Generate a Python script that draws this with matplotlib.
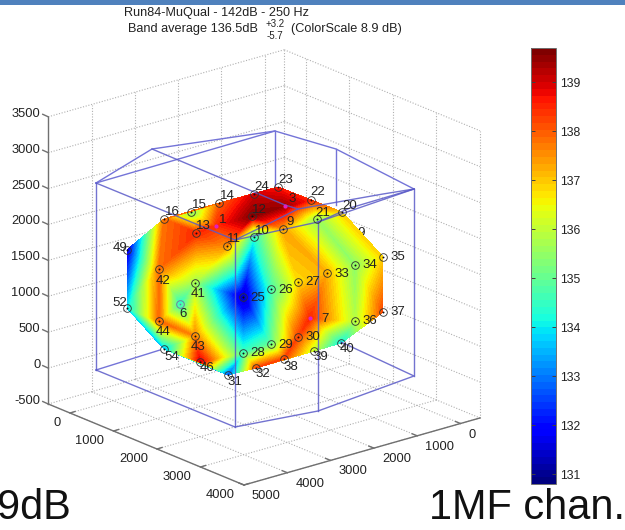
#! /usr/bin/env python3

import matplotlib
matplotlib.use("Agg")
import matplotlib.pyplot as plt
import matplotlib.tri as mtri
import numpy as np

plt.rcParams['font.family'] = ['Liberation Sans', 'DejaVu Sans']

W, H = 625, 530
TXT = '#222222'

# sensors: number, screen x, screen y, level in dB
sensor_id = ['49', '16', '15', '14', '24', '23', '22', '20', '3', '12', '1', '13', '11', '10', '9', '21',
             '35', '34', '33', '27', '26', '25', '42', '41', '6', '52', '44', '43', '54', '46', '31',
             '28', '29', '30', '32', '38', '39', '40', '36', '37', '7']
sensor_x = [127, 164, 191, 219, 254, 278, 311, 342, 285, 252, 216, 196, 227, 254, 283, 317,
            383, 355, 327, 298, 271, 243, 159, 195, 180, 127, 159, 195, 164, 200, 228,
            243, 271, 298, 256, 284, 314, 341, 355, 383, 310]
sensor_y = [250, 219, 212, 203, 194, 187, 200, 212, 206, 216, 226, 233, 246, 237, 229, 219,
            257, 265, 273, 282, 289, 297, 269, 283, 304, 308, 321, 336, 349, 362, 375,
            353, 344, 337, 368, 359, 351, 343, 321, 312, 318]
sensor_db = [131.5, 137.8, 135.2, 137.9, 139.0, 138.6, 138.5, 136.9, 139.4, 139.6, 138.4, 138.5, 137.5, 134.3, 137.3, 135.5,
             136.9, 135.4, 137.2, 136.8, 134.6, 131.2, 137.8, 135.6, 134.3, 133.8, 137.9, 137.6, 133.5, 139.0, 132.5,
             134.6, 135.0, 138.2, 138.2, 138.2, 136.0, 134.0, 135.8, 138.2, 138.5]
# where the number sits relative to the sensor
label_dx = [-7, 8, 8, 8, 8, 8, 7, 8, 7, 7, 7, 7, 7, 8, 7, 6,
            15, 15, 15, 15, 15, 15, 4, 3, 3, -7, 4, 3, 8, 7, 7,
            15, 15, 15, 7, 7, 7, 6, 15, 15, 15]
label_dy = [-2, -7, -7, -7, -7, -7, -8, -6, -7, -6, -6, -7, -7, -6, -7, -6,
            0, 0, 1, 0, 1, 1, 12, 11, 10, -5, 11, 11, 8, 6, 7,
            0, 1, 0, 6, 8, 6, 6, 0, 0, 1]
magenta_ids = ['1', '3', '7']

# axes box of the 3D view
x_ticks = [0, 1000, 2000, 3000, 4000]
y_ticks = [0, 1000, 2000, 3000, 4000, 5000]
z_ticks = [-500, 0, 500, 1000, 1500, 2000, 2500, 3000, 3500]
x_lim = (-500, 4000)
y_lim = (-450, 5000)
z_lim = (-500, 3500)

# blue wire frame, screen coordinates
wire_back = [
    ([96, 160], [370, 350]),
    ([275, 275], [131, 187]),
    ([336, 336], [149, 205]),
    ([96, 152, 275, 336, 414], [183, 149, 131, 149, 189]),
    ([96, 275], [183, 131]),
]
wire_front = [
    ([96, 96], [183, 370]),
    ([235, 235], [240, 427]),
    ([318, 318], [222, 411]),
    ([414, 414], [189, 376]),
    ([96, 235, 318, 414], [183, 240, 222, 189]),
    ([96, 235, 318, 414, 341], [370, 427, 411, 376, 342]),
    ([152, 285, 298], [149, 205, 209]),
    ([235, 270, 298, 383, 414], [240, 223, 209, 194, 189]),
    ([318, 350, 414], [222, 208, 189]),
]

cbar_ticks = [131, 132, 133, 134, 135, 136, 137, 138, 139]
cbar_min, cbar_max = 130.8, 139.7


def proj(x, y, z):
    # orthographic view: world mm to screen pixels
    return (286.5 + 0.0435 * x - 0.0433 * y,
            315.6 + 0.018 * x + 0.0123 * y - 0.0718 * z)


fig = plt.figure(figsize=(W / 100, H / 100), dpi=100)
ax = fig.add_axes([0, 0, 1, 1])
ax.set_xlim(0, W)
ax.set_ylim(H, 0)
ax.axis('off')

# top band of the slide
ax.fill_between([0, W], 0, 5, color='#4f81bd', lw=0, zorder=1)

# dotted grid on the two walls and the floor
grid_kw = dict(color='#b0b0b0', lw=0.8, ls=(0, (1, 1.5)), zorder=1)
def seg(p0, p1, **kw):
    a, b = proj(*p0), proj(*p1)
    ax.plot([a[0], b[0]], [a[1], b[1]], **kw)

for z in z_ticks:
    seg((x_lim[0], y_lim[1], z), (x_lim[0], y_lim[0], z), **grid_kw)
    seg((x_lim[0], y_lim[0], z), (x_lim[1], y_lim[0], z), **grid_kw)
for y in y_ticks[:-1]:
    seg((x_lim[0], y, z_lim[0]), (x_lim[0], y, z_lim[1]), **grid_kw)
for y in y_ticks:
    seg((x_lim[0], y, z_lim[0]), (x_lim[1], y, z_lim[0]), **grid_kw)
for x in x_ticks:
    seg((x, y_lim[0], z_lim[0]), (x, y_lim[0], z_lim[1]), **grid_kw)
    seg((x, y_lim[0], z_lim[0]), (x, y_lim[1], z_lim[0]), **grid_kw)
seg((x_lim[0], y_lim[0], z_lim[0]), (x_lim[0], y_lim[0], z_lim[1]), **grid_kw)

# axis lines, ticks, labels
axis_kw = dict(color='#707070', lw=1.0, zorder=1.5)
seg((x_lim[0], y_lim[1], z_lim[0]), (x_lim[0], y_lim[1], z_lim[1]), **axis_kw)
seg((x_lim[0], y_lim[1], z_lim[0]), (x_lim[1], y_lim[1], z_lim[0]), **axis_kw)
seg((x_lim[1], y_lim[1], z_lim[0]), (x_lim[1], y_lim[0], z_lim[0]), **axis_kw)
for z in z_ticks:
    px, py = proj(x_lim[0], y_lim[1], z)
    ax.plot([px - 5.5, px], [py - 2.5, py], **axis_kw)
    ax.text(px - 8, py - 3, str(z), ha='right', va='center', fontsize=9.3, color=TXT)
for x in x_ticks:
    px, py = proj(x, y_lim[1], z_lim[0])
    ax.plot([px, px + 5], [py, py - 1.5], **axis_kw)
    ax.text(px - 9, py + 10, str(x), ha='right', va='center', fontsize=9.3, color=TXT)
for y in y_ticks:
    px, py = proj(x_lim[1], y, z_lim[0])
    ax.plot([px, px - 5], [py, py - 2], **axis_kw)
    ax.text(px + 8, py + 11, str(y), ha='left', va='center', fontsize=9.3, color=TXT)

for xs, ys in wire_back:
    ax.plot(xs, ys, color='#7474d8', lw=1.0, zorder=1.8)

# half hidden number behind the surface
ax.text(358, 233, '19', ha='center', va='center', fontsize=9.3, color=TXT, zorder=1.9)

# coloured surface, level interpolated linearly on the sensor triangles
cmap = plt.get_cmap('jet', 64)
tri = mtri.Triangulation(sensor_x, sensor_y)
levels = np.linspace(cbar_min, cbar_max, 65)
ax.tricontourf(tri, np.clip(sensor_db, cbar_min + 0.01, cbar_max - 0.01), levels=levels,
               cmap=cmap, vmin=cbar_min, vmax=cbar_max, zorder=2, antialiased=False)

for xs, ys in wire_front:
    ax.plot(xs, ys, color='#5a5ac8', lw=1.0, alpha=0.85, zorder=3)

# sensor markers and numbers
for sid, sx, sy, dx, dy in zip(sensor_id, sensor_x, sensor_y, label_dx, label_dy):
    if sid in magenta_ids:
        ax.plot(sx, sy, 'o', ms=3, color='#e020c0', mew=0, zorder=4)
    elif sid == '6':
        ax.plot(sx, sy, 'o', ms=5.5, mfc='none', mec='#7080a0', mew=0.7, zorder=4)
        ax.plot(sx, sy, 'o', ms=1.2, color='#7080a0', mew=0, zorder=4)
    else:
        ax.plot(sx, sy, 'o', ms=5.5, mfc='none', mec='#303030', mew=0.6, zorder=4)
        ax.plot(sx, sy, 'o', ms=1.4, color='#101010', mew=0, zorder=4)
    ax.text(sx + dx, sy + dy, sid, ha='center', va='center', fontsize=9.5, color=TXT, zorder=5)

# title lines
ax.text(217, 13, 'Run84-MuQual - 142dB - 250 Hz', ha='center', va='center', fontsize=9.1, color=TXT)
ax.text(128, 29, 'Band average 136.5dB', ha='left', va='center', fontsize=9.2, color=TXT)
ax.text(275, 24, '+3.2', ha='center', va='center', fontsize=7, color=TXT)
ax.text(275, 36, '-5.7', ha='center', va='center', fontsize=7, color=TXT)
ax.text(291, 29, '(ColorScale 8.9 dB)', ha='left', va='center', fontsize=9.2, color=TXT)

# slide captions running off the picture
ax.text(-3, 508, '9dB', ha='left', va='center', fontsize=29.9, color='#111111')
ax.text(429, 508, '1MF chan.', ha='left', va='center', fontsize=29.9, color='#111111')

# colour bar
cax = fig.add_axes([530.7 / W, 1 - 484 / H, 24.8 / W, 436 / H])
sm = plt.cm.ScalarMappable(norm=plt.Normalize(cbar_min, cbar_max), cmap=cmap)
cb = fig.colorbar(sm, cax=cax)
cb.set_ticks(cbar_ticks)
cb.outline.set_edgecolor('#707070')
cb.outline.set_linewidth(0.7)
cax.tick_params(axis='y', which='major', length=3.2, width=0.7, color='#404040', direction='in',
                left=True, right=True, labelsize=8.8, labelcolor=TXT, pad=3)

fig.savefig('out.png', dpi=100)
